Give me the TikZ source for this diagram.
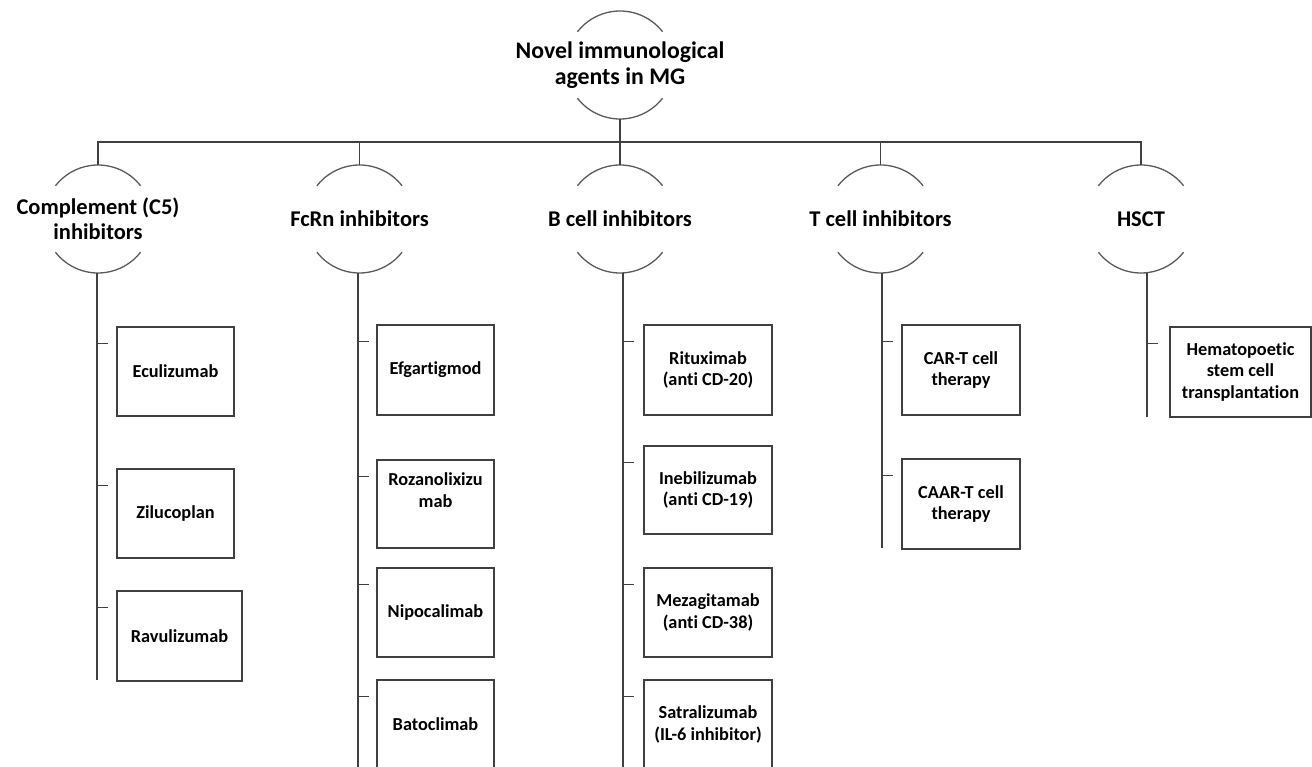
\documentclass[tikz,border=0pt]{standalone}
\usepackage{fontspec}
\setmainfont{Carlito}[Ligatures=NoCommon]
\definecolor{linec}{HTML}{404040}
\definecolor{arcc}{HTML}{5A5A5A}
\begin{document}
\begin{tikzpicture}[x=1pt,y=-1pt,
  conn/.style={draw=linec, line width=1.3pt},
  arcline/.style={draw=arcc, line width=1.3pt},
  hub/.style={circle, minimum size=108pt, inner sep=0pt, outer sep=0pt},
  hubtext/.style={font=\bfseries\fontsize{22.5}{25}\selectfont, align=center, text=black, inner sep=0pt},
  titletext/.style={hubtext, font=\bfseries\fontsize{23.8}{26}\selectfont},
  leaf/.style={draw=linec, line width=1.3pt, inner sep=0pt, align=center, text=black,
    font=\bfseries\fontsize{18.3}{21.5}\selectfont}]

\useasboundingbox (0,0) rectangle (1312,767);

% hubs
\node[hub, label={[titletext]center:{Novel immunological\\agents in MG}}] (top) at (620,65) {};
\node[hub, label={[hubtext]center:{Complement (C5)\\inhibitors}}] (c1) at (98,219) {};
\node[hub, label={[hubtext]center:{FcRn inhibitors}}] (c2) at (359.5,219) {};
\node[hub, label={[hubtext]center:{B cell inhibitors}}] (c3) at (620,219) {};
\node[hub, label={[hubtext]center:{T cell inhibitors}}] (c4) at (880.5,219) {};
\node[hub, label={[hubtext]center:{HSCT}}] (c5) at (1141,219) {};

\foreach \n in {top,c1,c2,c3,c4,c5} {
  \draw[arcline] (\n.38) arc[start angle=38, end angle=142, radius=54pt];
  \draw[arcline] (\n.218) arc[start angle=218, end angle=322, radius=54pt];
}

% top-level connectors
\coordinate (bar) at (0,142);
\draw[conn] (top.south) -- (c3.north);
\draw[conn] (c1.north) -- (c1.north |- bar) -- (c5.north |- bar) -- (c5.north);
\draw[conn] (c2.north) -- (c2.north |- bar);
\draw[conn] (c4.north) -- (c4.north |- bar);

% leaves
\node[leaf, minimum width=117pt, minimum height=89pt] (e1) at (175.5,371.5) {Eculizumab};
\node[leaf, minimum width=117pt, minimum height=89pt] (e2) at (175.5,513.5) {Zilucoplan};
\node[leaf, minimum width=125pt, minimum height=90pt] (e3) at (179.5,636) {Ravulizumab};

\node[leaf, minimum width=117pt, minimum height=90pt] (f1) at (435.5,370) {Efgartigmod};
\node[leaf, minimum width=117pt, minimum height=88pt] (f2) at (435.5,504) {Rozanolixizu\\mab\\\strut};
\node[leaf, minimum width=117pt, minimum height=89pt] (f3) at (435.5,612.5) {Nipocalimab};
\node[leaf, minimum width=117pt, minimum height=89pt] (f4) at (435.5,724.5) {Batoclimab};

\node[leaf, minimum width=128pt, minimum height=90pt] (b1) at (708,370) {Rituximab\\(anti CD-20)};
\node[leaf, minimum width=128pt, minimum height=88pt] (b2) at (708,490) {Inebilizumab\\(anti CD-19)};
\node[leaf, minimum width=128pt, minimum height=89pt] (b3) at (708,612.5) {Mezagitamab\\(anti CD-38)};
\node[leaf, minimum width=128pt, minimum height=89pt] (b4) at (708,724.5) {Satralizumab\\(IL-6 inhibitor)};

\node[leaf, minimum width=118pt, minimum height=90pt] (t1) at (961,370) {CAR-T cell\\therapy};
\node[leaf, minimum width=118pt, minimum height=90pt] (t2) at (961,504) {CAAR-T cell\\therapy};

\node[leaf, minimum width=141pt, minimum height=90pt] (h1) at (1240.5,372) {Hematopoetic\\stem cell\\transplantation};

% branch lines
\coordinate (c1end) at (97,680);
\coordinate (c2end) at (358,767);
\coordinate (c3end) at (623,767);
\coordinate (c4end) at (882,548);
\coordinate (c5end) at (1147,417);
\foreach \c in {c1,c2,c3,c4,c5} {
  \draw[conn] (\c.south -| \c end) -- (\c end);
}

% ticks
\foreach \c/\b in {c1/e1,c1/e2,c1/e3,c2/f1,c2/f2,c2/f3,c2/f4,c3/b1,c3/b2,c3/b3,c3/b4,c4/t1,c4/t2,c5/h1} {
  \draw[conn] (\c end |- \b.north) ++(0,17) -- ++(11,0);
}
\end{tikzpicture}
\end{document}
